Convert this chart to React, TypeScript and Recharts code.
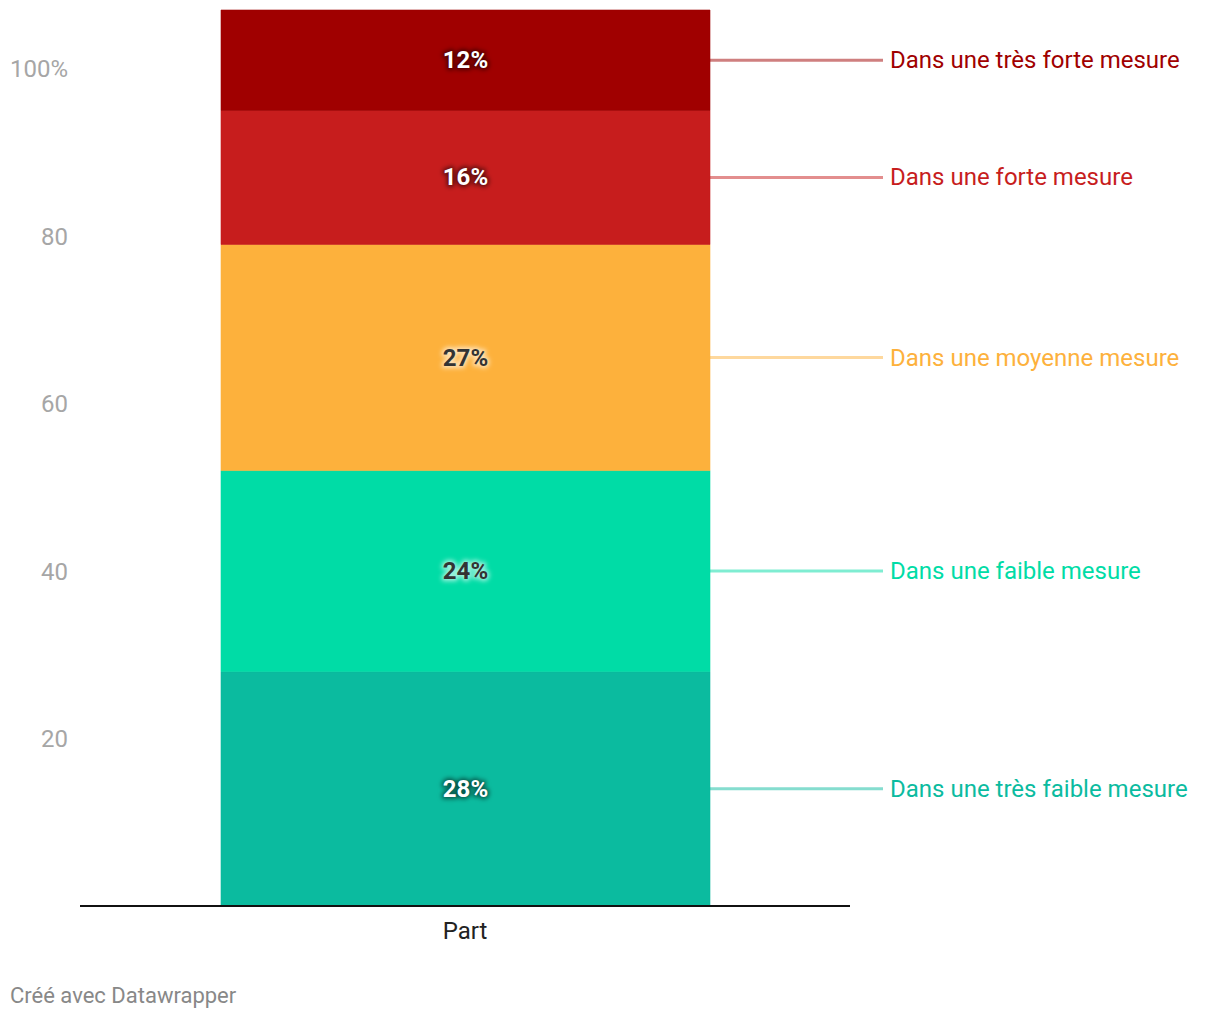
import React from 'react';
import { BarChart, Bar, XAxis, YAxis, LabelList } from 'recharts';

const categories = ['Part'];
const seriesKeys = ['tresFaible', 'faible', 'moyenne', 'forte', 'tresForte'];
const seriesNames = [
  'Dans une très faible mesure',
  'Dans une faible mesure',
  'Dans une moyenne mesure',
  'Dans une forte mesure',
  'Dans une très forte mesure',
];
const seriesValues = [28, 24, 27, 16, 12];
const seriesColors = ['#0bbb9f', '#00dca6', '#fdb13c', '#c71d1d', '#a00000'];
const darkLabel = [false, true, true, false, false];
const yTicks = [20, 40, 60, 80, 100];

const data = categories.map((name) => {
  const row: Record<string, string | number> = { name };
  seriesKeys.forEach((k, i) => {
    row[k] = seriesValues[i];
  });
  return row;
});

const FONT = 'Roboto, "Noto Sans", sans-serif';

const valueLabel = (idx: number) => (props: any) => {
  const { x, y, width, height, value } = props;
  const cx = x + width / 2;
  const cy = y + height / 2;
  const dark = darkLabel[idx];
  return (
    <g>
      <text
        x={cx}
        y={cy}
        textAnchor="middle"
        dominantBaseline="central"
        fontFamily={FONT}
        fontSize={24}
        fontWeight={700}
        fill={dark ? '#ffffff' : '#000000'}
        fillOpacity={dark ? 0.55 : 0.45}
        stroke={dark ? '#ffffff' : '#000000'}
        strokeOpacity={dark ? 0.45 : 0.35}
        strokeWidth={5}
        strokeLinejoin="round"
        filter="url(#blurHalo)"
      >
        {value}%
      </text>
      <text
        x={cx}
        y={cy}
        textAnchor="middle"
        dominantBaseline="central"
        fontFamily={FONT}
        fontSize={24}
        fontWeight={700}
        fill={dark ? '#333333' : '#ffffff'}
      >
        {value}%
      </text>
    </g>
  );
};

const sideLabel = (idx: number) => (props: any) => {
  const { x, y, width, height } = props;
  const right = x + width;
  const cy = y + height / 2;
  return (
    <g>
      <line
        x1={right}
        x2={right + 173}
        y1={cy}
        y2={cy}
        stroke={seriesColors[idx]}
        strokeOpacity={0.5}
        strokeWidth={3}
      />
      <text
        x={right + 180}
        y={cy}
        dominantBaseline="central"
        fontFamily={FONT}
        fontSize={24}
        fill={seriesColors[idx]}
      >
        {seriesNames[idx]}
      </text>
    </g>
  );
};

const App = () => {
  return (
    <div style={{ position: 'absolute', left: 0, top: 0, width: 1220, height: 1020, background: '#fff' }}>
      <BarChart
        width={1220}
        height={960}
        data={data}
        margin={{ top: 10, right: 370, bottom: 14, left: 0 }}
      >
        <defs>
          <filter id="blurHalo" x="-30%" y="-50%" width="160%" height="200%">
            <feGaussianBlur stdDeviation="2" />
          </filter>
        </defs>
        <XAxis
          dataKey="name"
          height={40}
          axisLine={{ stroke: '#111', strokeWidth: 2 }}
          tickLine={false}
          tickMargin={10}
          tick={{ fill: '#222', fontSize: 24, fontFamily: FONT }}
        />
        <YAxis
          width={80}
          domain={[0, 107]}
          ticks={yTicks}
          axisLine={false}
          tickLine={false}
          tickSize={0}
          tickMargin={12}
          tickFormatter={(v: number) => (v === 100 ? '100%' : String(v))}
          tick={{ fill: '#a6a6a6', fontSize: 24, fontFamily: FONT }}
        />
        {seriesKeys.map((k, i) => (
          <Bar
            key={k}
            dataKey={k}
            stackId="a"
            fill={seriesColors[i]}
            stroke={seriesColors[i]}
            strokeWidth={0.6}
            barSize={489}
            isAnimationActive={false}
          >
            <LabelList dataKey={k} content={valueLabel(i)} />
            <LabelList dataKey={k} content={sideLabel(i)} />
          </Bar>
        ))}
      </BarChart>
      <div
        style={{
          position: 'absolute',
          left: 10,
          top: 983,
          fontFamily: FONT,
          fontSize: 22,
          color: '#888',
        }}
      >
        Créé avec Datawrapper
      </div>
    </div>
  );
};

export default App;
